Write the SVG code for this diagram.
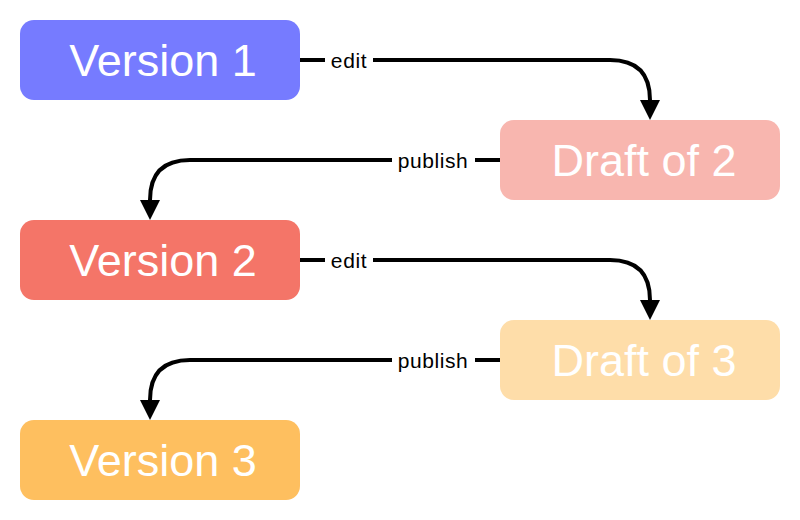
<svg xmlns="http://www.w3.org/2000/svg" width="800" height="520" viewBox="0 0 800 520">
<style>
.node text{font-family:"Liberation Sans",Arial,sans-serif;font-size:45px;fill:#fff;text-anchor:middle}
.edge{fill:none;stroke:#000;stroke-width:4}
.lbl{font-family:"Liberation Sans",Arial,sans-serif;font-size:21px;letter-spacing:0.6px;fill:#000;text-anchor:middle}
.bg{fill:#fff}
</style>
<defs>
<marker id="arr" viewBox="0 0 20 20" refX="0" refY="10" markerWidth="20" markerHeight="20" markerUnits="userSpaceOnUse" orient="auto">
<path d="M0,0 L20,10 L0,20 Z" fill="#000"/>
</marker>
</defs>
<rect width="800" height="520" fill="#fff"/>
<g id="edges">
<path class="edge" d="M300,60 L610,60 Q650,60 650,100" marker-end="url(#arr)"/>
<rect class="bg" x="325" y="48" width="48" height="24"/>
<text class="lbl" x="349" y="68">edit</text>
<path class="edge" d="M500,160 L190,160 Q150,160 150,200" marker-end="url(#arr)"/>
<rect class="bg" x="392" y="148" width="83" height="24"/>
<text class="lbl" x="433" y="168">publish</text>
<path class="edge" d="M300,260 L610,260 Q650,260 650,300" marker-end="url(#arr)"/>
<rect class="bg" x="325" y="248" width="48" height="24"/>
<text class="lbl" x="349" y="268">edit</text>
<path class="edge" d="M500,360 L190,360 Q150,360 150,400" marker-end="url(#arr)"/>
<rect class="bg" x="392" y="348" width="83" height="24"/>
<text class="lbl" x="433" y="368">publish</text>
</g>
<g id="v1" class="node"><rect x="20" y="20" width="280" height="80" rx="14" fill="#767BFF"/><text x="163" y="76">Version 1</text></g>
<g id="d2" class="node"><rect x="500" y="120" width="280" height="80" rx="14" fill="#F8B6AF"/><text x="644" y="176">Draft of 2</text></g>
<g id="v2" class="node"><rect x="20" y="220" width="280" height="80" rx="14" fill="#F47568"/><text x="163" y="276">Version 2</text></g>
<g id="d3" class="node"><rect x="500" y="320" width="280" height="80" rx="14" fill="#FEDDA9"/><text x="644" y="376">Draft of 3</text></g>
<g id="v3" class="node"><rect x="20" y="420" width="280" height="80" rx="14" fill="#FEBF5F"/><text x="163" y="476">Version 3</text></g>
</svg>
